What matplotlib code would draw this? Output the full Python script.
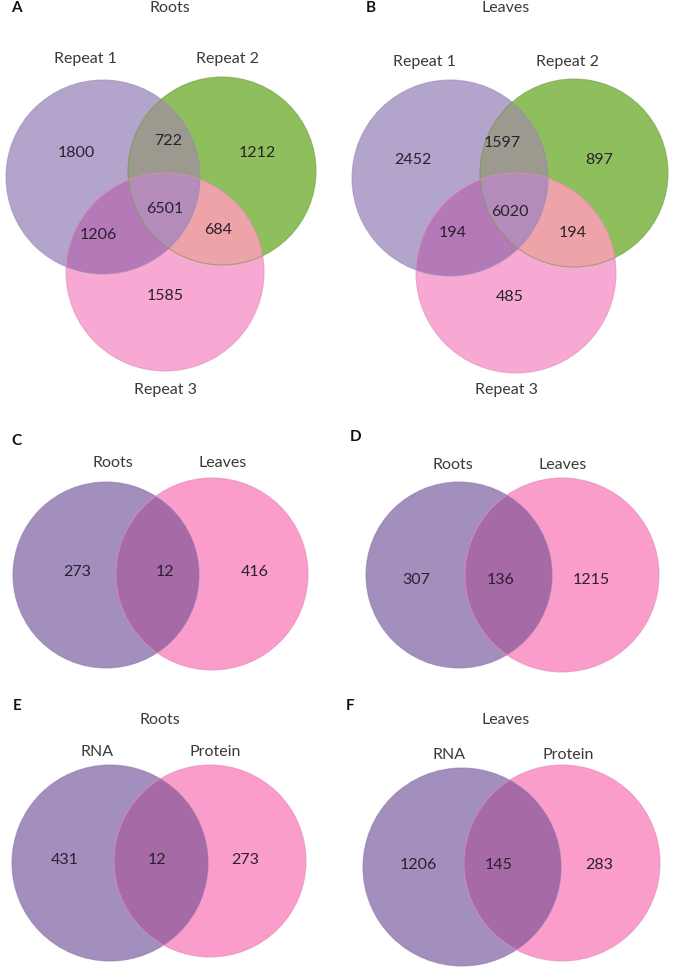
import numpy as np
import matplotlib
matplotlib.use("Agg")
import matplotlib.pyplot as plt
from matplotlib.patches import Circle, Polygon

plt.rcParams['font.family'] = ['Lato', 'DejaVu Sans']

# ---------------- data ----------------
panel_letters = ['A', 'B', 'C', 'D', 'E', 'F']
panel_titles = ['Roots', 'Leaves', '', '', 'Roots', 'Leaves']
repeat_labels = ['Repeat 1', 'Repeat 2', 'Repeat 3']
# order: only1, only2, only3, 1&2, 1&3, 2&3, 1&2&3
roots_repeat_counts = [1800, 1212, 1585, 722, 1206, 684, 6501]
leaves_repeat_counts = [2452, 897, 485, 1597, 194, 194, 6020]
tissue_labels = ['Roots', 'Leaves']
omics_labels = ['RNA', 'Protein']
# order: only left, only right, both
panel_c_counts = [273, 416, 12]
panel_d_counts = [307, 1215, 136]
panel_e_counts = [431, 273, 12]
panel_f_counts = [1206, 283, 145]

# ---------------- styling ----------------
C3 = dict(p='#b3a4cc', g='#8fbf5c', k='#f8a9d3', pg='#9c9a8e', pk='#b47ab8',
          gk='#eea3a8', t='#b48cba')
C2 = dict(p='#a38fbd', k='#fb9dcb', pk='#a66aa7')
NUM_COL = '#2a2030'
LAB_COL = '#3a3a3a'

fig = plt.figure(figsize=(6.76, 9.67), dpi=100)
ax = fig.add_axes([0, 0, 1, 1])
ax.set_xlim(0, 676)
ax.set_ylim(967, 0)
ax.axis('off')


def lens_polygon(c1, r1, c2, r2, n=720):
    t = np.linspace(0, 2 * np.pi, n, endpoint=False)
    p1 = np.c_[c1[0] + r1 * np.cos(t), c1[1] + r1 * np.sin(t)]
    p2 = np.c_[c2[0] + r2 * np.cos(t), c2[1] + r2 * np.sin(t)]
    p1 = p1[np.hypot(p1[:, 0] - c2[0], p1[:, 1] - c2[1]) <= r2]
    p2 = p2[np.hypot(p2[:, 0] - c1[0], p2[:, 1] - c1[1]) <= r1]
    pts = np.vstack([p1, p2])
    cen = pts.mean(axis=0)
    ang = np.arctan2(pts[:, 1] - cen[1], pts[:, 0] - cen[0])
    return pts[np.argsort(ang)]


def circ(c, r, fc, **kw):
    patch = Circle(c, r, facecolor=fc, edgecolor='none', **kw)
    ax.add_patch(patch)
    return patch


def outline(c, r, col):
    ax.add_patch(Circle(c, r, facecolor='none', edgecolor=col, lw=0.8, alpha=0.6))


def txt(x, y, s, size=11.5, color=NUM_COL, weight='normal'):
    ax.text(x, y, s, ha='center', va='center', fontsize=size, color=color,
            fontweight=weight)


def venn3(centers, radii, counts, count_pos, labels, label_pos):
    (cp, cg, ck), (rp, rg, rk) = centers, radii
    P = circ(cp, rp, C3['p'])
    G = circ(cg, rg, C3['g'])
    K = circ(ck, rk, C3['k'])
    circ(cg, rg, C3['pg']).set_clip_path(P)
    circ(ck, rk, C3['pk']).set_clip_path(P)
    circ(ck, rk, C3['gk']).set_clip_path(G)
    lens = Polygon(lens_polygon(cp, rp, cg, rg), closed=True, facecolor='none',
                   edgecolor='none', transform=ax.transData)
    circ(ck, rk, C3['t']).set_clip_path(lens)
    outline(cp, rp, '#9a8ab5')
    outline(cg, rg, '#6f9a45')
    outline(ck, rk, '#e08ab8')
    for v, (x, y) in zip(counts, count_pos):
        txt(x, y, str(v))
    for s, (x, y) in zip(labels, label_pos):
        txt(x, y, s, color=LAB_COL)


def venn2(centers, radii, counts, count_pos, labels, label_pos):
    (cp, ck), (rp, rk) = centers, radii
    P = circ(cp, rp, C2['p'])
    circ(ck, rk, C2['k'])
    circ(ck, rk, C2['pk']).set_clip_path(P)
    outline(cp, rp, '#8a76a8')
    outline(ck, rk, '#e088b8')
    for v, (x, y) in zip(counts, count_pos):
        txt(x, y, str(v))
    for s, (x, y) in zip(labels, label_pos):
        txt(x, y, s, color=LAB_COL)


# ---- panel A ----
venn3([(103, 177), (222, 171), (165, 272)], [97, 94, 99], roots_repeat_counts,
      [(76, 153), (257, 153), (165, 296), (168, 141), (98, 235), (218, 230), (165, 209)],
      repeat_labels, [(85, 59), (228, 59), (165, 390)])
# ---- panel B ----
venn3([(450, 178), (574, 173), (516, 273)], [98, 94, 100], leaves_repeat_counts,
      [(413, 160), (599, 160), (510, 297), (502, 143), (453, 233), (573, 233), (510, 212)],
      repeat_labels, [(424, 62), (568, 62), (506, 390)])
# ---- panel C ----
venn2([(106, 575), (212, 574)], [93, 96], panel_c_counts,
      [(77, 572), (255, 572), (165, 572)], tissue_labels, [(113, 463), (223, 463)])
# ---- panel D ----
venn2([(459, 575), (562, 575)], [93, 97], panel_d_counts,
      [(416, 580), (591, 580), (501, 580)], tissue_labels, [(453, 465), (563, 465)])
# ---- panel E ----
venn2([(110, 863), (210, 861)], [98, 96], panel_e_counts,
      [(65, 860), (245, 860), (157, 860)], omics_labels, [(97, 752), (215, 752)])
# ---- panel F ----
venn2([(462, 867), (562, 863)], [99, 98], panel_f_counts,
      [(418, 865), (599, 865), (499, 865)], omics_labels, [(449, 755), (568, 755)])

# panel letters and titles
letter_pos = [(16, 8), (371, 8), (16, 441), (356, 437), (17, 706), (350, 706)]
title_pos = [(170, 8), (506, 8), None, None, (160, 720), (506, 720)]
for s, (x, y) in zip(panel_letters, letter_pos):
    txt(x, y, s, size=11, color='#111111', weight='bold')
for s, p in zip(panel_titles, title_pos):
    if s and p:
        txt(p[0], p[1], s, color=LAB_COL)

fig.savefig('out.png', dpi=100)
